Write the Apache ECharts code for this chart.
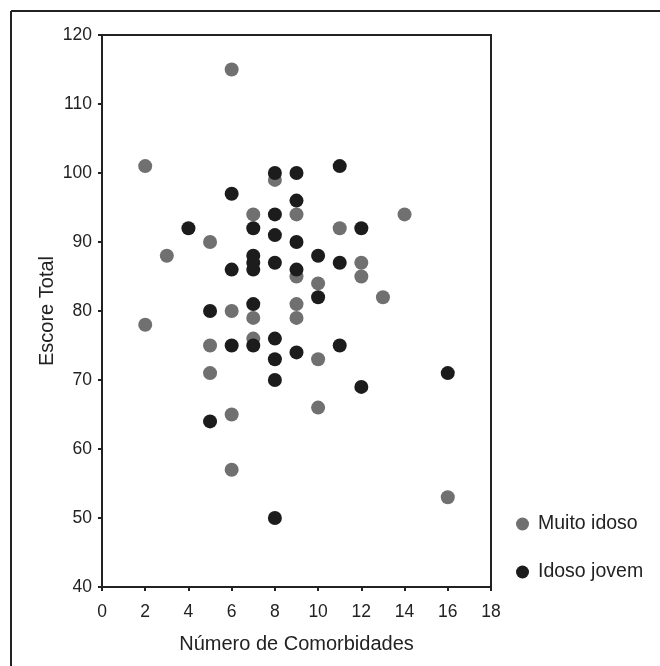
<!DOCTYPE html>
<html>
<head>
<meta charset="utf-8">
<script src="https://cdn.jsdelivr.net/npm/echarts@6/dist/echarts.min.js"></script>
<style>
html,body{margin:0;padding:0;background:#fff;}
#chart{width:660px;height:666px;}
</style>
</head>
<body>
<div id="chart"></div>
<script>
const seriesNames = ['Muito idoso', 'Idoso jovem'];
const xTicks = [0, 2, 4, 6, 8, 10, 12, 14, 16, 18];
const yTicks = [40, 50, 60, 70, 80, 90, 100, 110, 120];

const muitoIdoso = [
  [6,115],[2,101],[8,99],[7,94],[9,94],[14,94],[11,92],[5,90],[3,88],
  [12,87],[12,85],[9,85],[10,84],[13,82],[6,80],[9,81],[7,79],[9,79],
  [2,78],[7,76],[5,75],[10,73],[5,71],[10,66],[6,65],[6,57],[16,53]
];
const idosoJovem = [
  [11,101],[8,100],[9,100],[6,97],[9,96],[8,94],[4,92],[7,92],[12,92],
  [8,91],[9,90],[7,88],[10,88],[7,87],[8,87],[11,87],[7,86],[6,86],[9,86],
  [10,82],[7,81],[5,80],[8,76],[6,75],[7,75],[11,75],[9,74],[8,73],[8,70],
  [12,69],[5,64],[16,71],[8,50]
];

const ink = '#222';
const font = 'Liberation Sans, Arial, Helvetica, sans-serif';
const chart = echarts.init(document.getElementById('chart'), null, {renderer: 'canvas'});
chart.setOption({
  animation: false,
  backgroundColor: '#fff',
  textStyle: {fontFamily: font, color: ink},
  graphic: [
    {type: 'line', shape: {x1: 11, y1: 11, x2: 660, y2: 11}, style: {stroke: ink, lineWidth: 2}},
    {type: 'line', shape: {x1: 11, y1: 11, x2: 11, y2: 666}, style: {stroke: ink, lineWidth: 2}}
  ],
  grid: {left: 102, top: 35, right: 169, bottom: 79, show: true, borderColor: ink, borderWidth: 2, backgroundColor: 'transparent'},
  legend: {
    orient: 'vertical', left: 511, top: 509, itemWidth: 13, itemHeight: 13, itemGap: 28,
    data: seriesNames.map(n => ({name: n, icon: 'circle'})),
    textStyle: {fontFamily: font, fontSize: 19.5, color: ink, padding: [0, 0, 0, 4]}
  },
  xAxis: {
    type: 'value', min: xTicks[0], max: xTicks[xTicks.length - 1], interval: 2,
    name: 'Número de Comorbidades', nameLocation: 'middle', nameGap: 47, nameMoveOverlap: false,
    nameTextStyle: {fontFamily: font, fontSize: 20, color: ink},
    axisLine: {show: true, lineStyle: {color: ink, width: 2}},
    axisTick: {show: true, length: 4, lineStyle: {color: ink, width: 2}},
    axisLabel: {fontFamily: font, fontSize: 17.5, color: ink, margin: 16},
    splitLine: {show: false}
  },
  yAxis: {
    type: 'value', min: yTicks[0], max: yTicks[yTicks.length - 1], interval: 10,
    name: 'Escore Total', nameLocation: 'middle', nameGap: 45, nameMoveOverlap: false,
    nameTextStyle: {fontFamily: font, fontSize: 20, color: ink},
    axisLine: {show: true, lineStyle: {color: ink, width: 2}},
    axisTick: {show: true, length: 4, lineStyle: {color: ink, width: 2}},
    axisLabel: {fontFamily: font, fontSize: 17.5, color: ink, margin: 10},
    splitLine: {show: false}
  },
  series: [
    {name: seriesNames[0], type: 'scatter', data: muitoIdoso, symbol: 'circle', symbolSize: 14,
     itemStyle: {color: '#707070', opacity: 1}},
    {name: seriesNames[1], type: 'scatter', data: idosoJovem, symbol: 'circle', symbolSize: 14,
     itemStyle: {color: '#1c1c1c', opacity: 1}}
  ]
});
</script>
</body>
</html>
